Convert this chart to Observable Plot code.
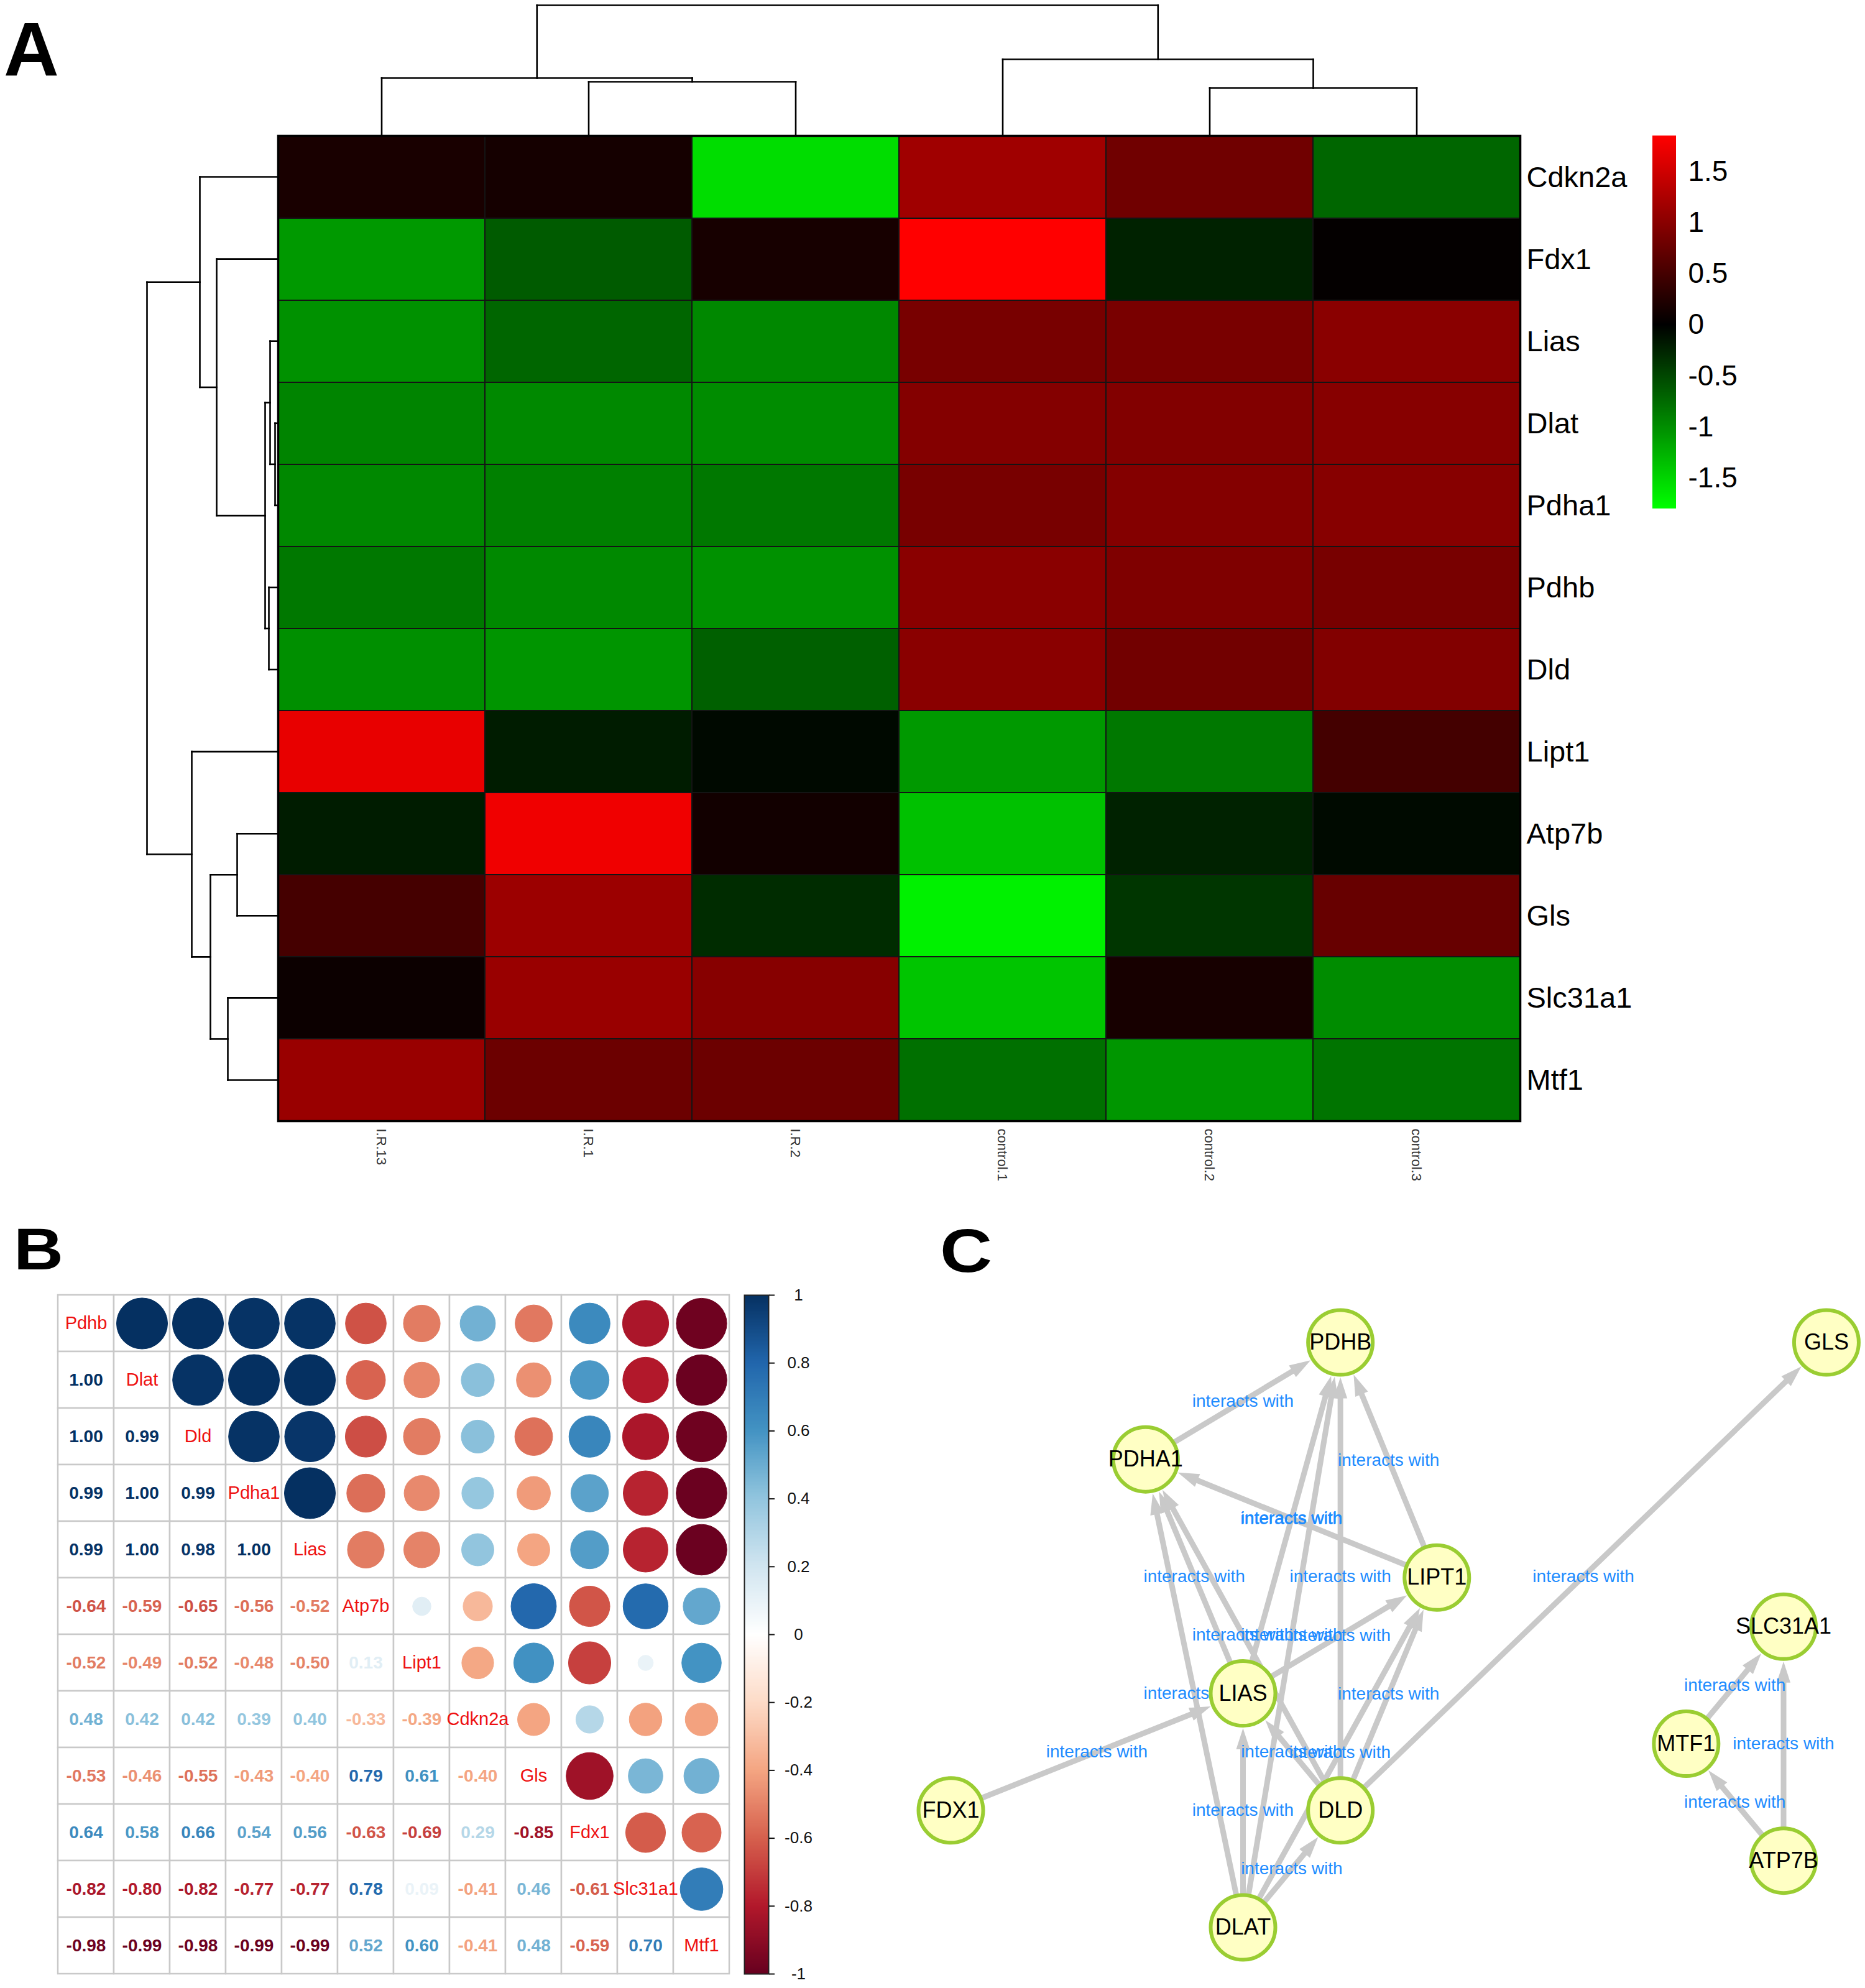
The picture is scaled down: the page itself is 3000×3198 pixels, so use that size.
<!DOCTYPE html>
<html>
<head>
<meta charset="utf-8">
<script src="https://cdn.jsdelivr.net/npm/d3@7"></script>
<script src="https://cdn.jsdelivr.net/npm/@observablehq/plot@0.6"></script>
<style>
  html, body { margin: 0; padding: 0; background: #fff; }
  #fig { position: relative; width: 3000px; height: 3198px; overflow: hidden; background: #fff;
         font-family: Arial, "Liberation Sans", Helvetica, sans-serif; }
  #fig > svg { position: absolute; }
</style>
</head>
<body>
<div id="fig">
  <svg width="3000" height="3198" style="left:0;top:0" font-family="Arial, 'Liberation Sans', sans-serif" font-weight="bold">
    <text x="6" y="122" font-size="123">A</text>
    <text x="22" y="2042" font-size="95" textLength="80" lengthAdjust="spacingAndGlyphs">B</text>
    <text x="1512" y="2046" font-size="98" textLength="84" lengthAdjust="spacingAndGlyphs">C</text>
  </svg>
</div>
<script>
// ================= DATA =================
// ---- Panel A: heatmap ----
const heatCols = ["I.R.13", "I.R.1", "I.R.2", "control.1", "control.2", "control.3"];
const heatRows = ["Cdkn2a", "Fdx1", "Lias", "Dlat", "Pdha1", "Pdhb", "Dld", "Lipt1", "Atp7b", "Gls", "Slc31a1", "Mtf1"];
const heatValues = [
  [ 0.18,  0.15, -1.56,  1.16,  0.81, -0.72], // Cdkn2a
  [-1.08, -0.64,  0.17,  1.85, -0.24,  0.03], // Fdx1
  [-1.02, -0.72, -0.96,  0.87,  0.88,  1.00], // Lias
  [-0.93, -0.97, -0.99,  0.96,  0.94,  0.98], // Dlat
  [-0.96, -0.90, -0.85,  0.87,  0.96,  0.98], // Pdha1
  [-0.85, -0.97, -1.02,  1.00,  0.92,  0.87], // Pdhb
  [-1.01, -1.05, -0.68,  1.00,  0.83,  0.94], // Dld
  [ 1.68, -0.20, -0.06, -1.08, -0.85,  0.49], // Lipt1
  [-0.20,  1.74,  0.13, -1.36, -0.24, -0.07], // Atp7b
  [ 0.50,  1.13, -0.31, -1.70, -0.38,  0.75], // Gls
  [ 0.09,  1.11,  0.98, -1.39,  0.17, -0.99], // Slc31a1
  [ 1.11,  0.78,  0.78, -0.79, -1.06, -0.82]  // Mtf1
];
// hclust-like merges: [childA, childB, height]; numbers = leaf index, "mK" = merge K
const colMerges = [[1, 2, 87], [0, "m0", 93], [4, 5, 77], [3, "m2", 123], ["m1", "m3", 210]];
const rowMerges = [
  [3, 4, 5], [2, "m0", 13], [5, 6, 15], ["m1", "m2", 21], [1, "m3", 99], [0, "m4", 126],
  [8, 9, 66], [10, 11, 81], ["m6", "m7", 109], [7, "m8", 139], ["m5", "m9", 211]
];
const heatTicks = [-1.5, -1, -0.5, 0, 0.5, 1, 1.5];

// ---- Panel B: correlation matrix ----
const corrGenes = ["Pdhb", "Dlat", "Dld", "Pdha1", "Lias", "Atp7b", "Lipt1", "Cdkn2a", "Gls", "Fdx1", "Slc31a1", "Mtf1"];
const corrLower = [
  [],
  [1.00],
  [1.00, 0.99],
  [0.99, 1.00, 0.99],
  [0.99, 1.00, 0.98, 1.00],
  [-0.64, -0.59, -0.65, -0.56, -0.52],
  [-0.52, -0.49, -0.52, -0.48, -0.50, 0.13],
  [0.48, 0.42, 0.42, 0.39, 0.40, -0.33, -0.39],
  [-0.53, -0.46, -0.55, -0.43, -0.40, 0.79, 0.61, -0.40],
  [0.64, 0.58, 0.66, 0.54, 0.56, -0.63, -0.69, 0.29, -0.85],
  [-0.82, -0.80, -0.82, -0.77, -0.77, 0.78, 0.09, -0.41, 0.46, -0.61],
  [-0.98, -0.99, -0.98, -0.99, -0.99, 0.52, 0.60, -0.41, 0.48, -0.59, 0.70]
];
const corrTicks = [-1, -0.8, -0.6, -0.4, -0.2, 0, 0.2, 0.4, 0.6, 0.8, 1];
const rdbuStops = [-1, -0.8, -0.6, -0.4, -0.2, 0, 0.2, 0.4, 0.6, 0.8, 1];
const rdbuColors = ["#67001F", "#B2182B", "#D6604D", "#F4A582", "#FDDBC7", "#FFFFFF", "#D1E5F0", "#92C5DE", "#4393C3", "#2166AC", "#053061"];

// ---- Panel C: network (layout units) ----
const nodeNames = ["PDHB", "GLS", "PDHA1", "LIPT1", "SLC31A1", "LIAS", "MTF1", "FDX1", "DLD", "ATP7B", "DLAT"];
const nodeX = [4, 8.99, 2, 4.99, 8.55, 3, 7.55, 0, 4, 8.55, 3];
const nodeY = [0, 0, 1, 2.01, 2.43, 3, 3.43, 4, 4, 4.43, 5];
const edgeList = [
  ["PDHA1", "PDHB"], ["LIPT1", "PDHB"], ["LIPT1", "PDHA1"], ["LIAS", "PDHA1"], ["DLAT", "PDHA1"],
  ["DLD", "PDHA1"], ["LIAS", "PDHB"], ["DLAT", "PDHB"], ["DLD", "PDHB"], ["LIAS", "LIPT1"],
  ["DLD", "LIPT1"], ["DLAT", "LIPT1"], ["DLD", "LIAS"], ["DLAT", "LIAS"], ["DLAT", "DLD"],
  ["FDX1", "LIAS"], ["DLD", "GLS"], ["MTF1", "SLC31A1"], ["ATP7B", "SLC31A1"], ["ATP7B", "MTF1"]
];
const edgeLabel = "interacts with";

// ================= HELPERS =================
const FONT = "Arial, 'Liberation Sans', Helvetica, sans-serif";
const fig = document.getElementById("fig");
function style(extra = {}) {
  return Object.assign({background: "transparent", maxWidth: "none", overflow: "visible", fontFamily: FONT, color: "black"}, extra);
}
function place(svg, left, top) {
  svg.style.position = "absolute";
  svg.style.left = left + "px";
  svg.style.top = top + "px";
  fig.appendChild(svg);
}
function dendroSegments(merges) {
  const pos = {}, hgt = {}, segs = [];
  const get = k => typeof k === "number" ? [k, 0] : [pos[k], hgt[k]];
  merges.forEach(([a, b, h], i) => {
    const [pa, ha] = get(a), [pb, hb] = get(b);
    segs.push({p1: pa, h1: ha, p2: pa, h2: h});
    segs.push({p1: pb, h1: hb, p2: pb, h2: h});
    segs.push({p1: pa, h1: h, p2: pb, h2: h});
    pos["m" + i] = (pa + pb) / 2;
    hgt["m" + i] = h;
  });
  return segs;
}

// ================= PANEL A =================
const heatColor = {type: "linear", domain: [-1.8, 0, 1.85], range: ["#00ff00", "#000000", "#ff0000"], interpolate: "rgb"};
const heatData = heatRows.flatMap((r, i) => heatCols.map((c, j) => ({row: r, col: c, value: heatValues[i][j]})));

place(Plot.plot({
  width: 3000, height: 1950,
  marginLeft: 447, marginRight: 555, marginTop: 218, marginBottom: 147,
  style: style(),
  x: {type: "band", domain: heatCols, padding: 0, axis: null},
  y: {type: "band", domain: heatRows, padding: 0, axis: null},
  color: heatColor,
  marks: [
    Plot.cell(heatData, {x: "col", y: "row", fill: "value", stroke: "#141414", strokeWidth: 2, inset: 0}),
    Plot.frame({stroke: "#000", strokeWidth: 3.5}),
    Plot.text(heatRows, {y: d => d, frameAnchor: "right", textAnchor: "start", dx: 10, fontSize: 47, fill: "#000"}),
    Plot.text(heatCols, {x: d => d, frameAnchor: "bottom", rotate: 90, textAnchor: "start", dy: 12, dx: -8, fontSize: 22, fill: "#333"})
  ]
}), 0, 0);

// column dendrogram
place(Plot.plot({
  width: 3000, height: 230, style: style(),
  x: {type: "linear", domain: [-0.5, heatCols.length - 0.5], range: [447, 2445], axis: null},
  y: {type: "linear", domain: [0, 210], range: [218, 8], axis: null},
  marks: [Plot.link(dendroSegments(colMerges), {x1: "p1", y1: "h1", x2: "p2", y2: "h2", stroke: "#000", strokeWidth: 2.6, strokeLinecap: "square"})]
}), 0, 0);

// row dendrogram
place(Plot.plot({
  width: 460, height: 1810, style: style(),
  x: {type: "linear", domain: [0, 211], range: [447, 236], axis: null},
  y: {type: "linear", domain: [-0.5, heatRows.length - 0.5], range: [218, 1803], axis: null},
  marks: [Plot.link(dendroSegments(rowMerges), {x1: "h1", y1: "p1", x2: "h2", y2: "p2", stroke: "#000", strokeWidth: 2.6, strokeLinecap: "square"})]
}), 0, 0);

// heatmap color bar
const heatSteps = d3.range(-1.8, 1.85, 0.005);
place(Plot.plot({
  width: 200, height: 640,
  marginLeft: 58, marginRight: 104, marginTop: 20, marginBottom: 20,
  style: style(),
  x: {domain: [0, 1], axis: null},
  y: {domain: [-1.8, 1.85], axis: null},
  color: heatColor,
  marks: [
    Plot.rect(heatSteps, {x1: 0, x2: 1, y1: d => d, y2: d => Math.min(1.85, d + 0.008), fill: d => d + 0.0025, shapeRendering: "crispEdges"}),
    Plot.axisY({anchor: "right", ticks: heatTicks, tickSize: 0, tickPadding: 19, fontSize: 46, tickFormat: d => String(d), label: null})
  ]
}), 2600, 198);

// ================= PANEL B =================
const corrColor = {type: "linear", domain: rdbuStops, range: rdbuColors, interpolate: "rgb"};
const corrVal = (i, j) => i === j ? 1 : (i > j ? corrLower[i][j] : corrLower[j][i]);
const corrAll = corrGenes.flatMap((r, i) => corrGenes.map((c, j) => ({row: r, col: c, i, j, v: corrVal(i, j)})));
const corrUpper = corrAll.filter(d => d.j > d.i);
const corrLowerData = corrAll.filter(d => d.j < d.i);
const corrDiag = corrAll.filter(d => d.j === d.i);

place(Plot.plot({
  width: 1400, height: 1248,
  marginLeft: 88, marginRight: 222, marginTop: 133, marginBottom: 23,
  style: style(),
  x: {type: "band", domain: corrGenes, padding: 0, axis: null},
  y: {type: "band", domain: corrGenes, padding: 0, axis: null},
  color: corrColor,
  r: {type: "sqrt", domain: [0, 1], range: [0, 41]},
  marks: [
    Plot.cell(corrAll, {x: "col", y: "row", fill: "white", stroke: "#c9c9c9", strokeWidth: 2.5, inset: 0}),
    Plot.dot(corrUpper, {x: "col", y: "row", r: d => Math.abs(d.v), fill: "v", stroke: "v", strokeWidth: 1}),
    Plot.text(corrLowerData, {x: "col", y: "row", text: d => d.v.toFixed(2), fill: "v", fontSize: 28, fontWeight: "bold"}),
    Plot.text(corrDiag, {x: "col", y: "row", text: "row", fill: "#ee1111", fontSize: 29})
  ]
}), 0, 1950);

// correlation colour bar
const corrSteps = d3.range(-1, 1, 0.004);
place(Plot.plot({
  width: 200, height: 1132,
  marginLeft: 47, marginRight: 114, marginTop: 20, marginBottom: 20,
  style: style(),
  x: {domain: [0, 1], axis: null},
  y: {domain: [-1, 1], axis: null},
  color: corrColor,
  marks: [
    Plot.rect(corrSteps, {x1: 0, x2: 1, y1: d => d, y2: d => Math.min(1, d + 0.006), fill: d => d + 0.002, shapeRendering: "crispEdges"}),
    Plot.frame({stroke: "#222", strokeWidth: 2}),
    Plot.axisY({anchor: "right", ticks: corrTicks, tickSize: 9, tickPadding: 39, textAnchor: "middle", fontSize: 26, fill: "#111", stroke: "#111", strokeWidth: 2, tickFormat: d => String(d), label: null})
  ]
}), 1150, 2063);

// ================= PANEL C =================
const cxRange = [79, 1489], cyRange = [209, 1150];
const cxDomain = [0, 9], cyDomain = [0, 5];
const kx = (cxRange[1] - cxRange[0]) / (cxDomain[1] - cxDomain[0]);
const ky = (cyRange[1] - cyRange[0]) / (cyDomain[1] - cyDomain[0]);
const nodes = nodeNames.map((n, i) => ({name: n, x: nodeX[i], y: nodeY[i]}));
const nodeIdx = Object.fromEntries(nodeNames.map((n, i) => [n, i]));
const edges = edgeList.map(([s, t]) => ({sx: nodeX[nodeIdx[s]], sy: nodeY[nodeIdx[s]], tx: nodeX[nodeIdx[t]], ty: nodeY[nodeIdx[t]]}));

const NODE_R = 52, APEX = 56, HEAD_L = 34, HEAD_W = 11;
const headSymbol = {
  draw(context) {
    context.moveTo(0, -APEX);
    context.lineTo(-HEAD_W, -(APEX + HEAD_L));
    context.lineTo(HEAD_W, -(APEX + HEAD_L));
    context.closePath();
  }
};
const edgeGray = "#c9c9c9";

place(Plot.plot({
  width: 1550, height: 1248, style: style(),
  x: {type: "linear", domain: cxDomain, range: cxRange, axis: null},
  y: {type: "linear", domain: cyDomain, range: cyRange, axis: null},
  marks: [
    Plot.arrow(edges, {x1: "sx", y1: "sy", x2: "tx", y2: "ty", stroke: edgeGray, strokeWidth: 9, headLength: 0, insetEnd: APEX + HEAD_L - 6}),
    Plot.dot(edges, {
      x: "tx", y: "ty", r: 1, symbol: headSymbol, fill: edgeGray, stroke: "none",
      rotate: d => Math.atan2((d.sx - d.tx) * kx, -(d.sy - d.ty) * ky) * 180 / Math.PI
    }),
    Plot.text(edges, {x: d => (d.sx + d.tx) / 2, y: d => (d.sy + d.ty) / 2, text: () => edgeLabel, fill: "#1e8cff", fontSize: 28}),
    Plot.dot(nodes, {x: "x", y: "y", r: NODE_R, fill: "#ffffc4", stroke: "#9acd32", strokeWidth: 6}),
    Plot.text(nodes, {x: "x", y: "y", text: "name", fontSize: 36, fill: "#000"})
  ]
}), 1450, 1950);
</script>
</body>
</html>
